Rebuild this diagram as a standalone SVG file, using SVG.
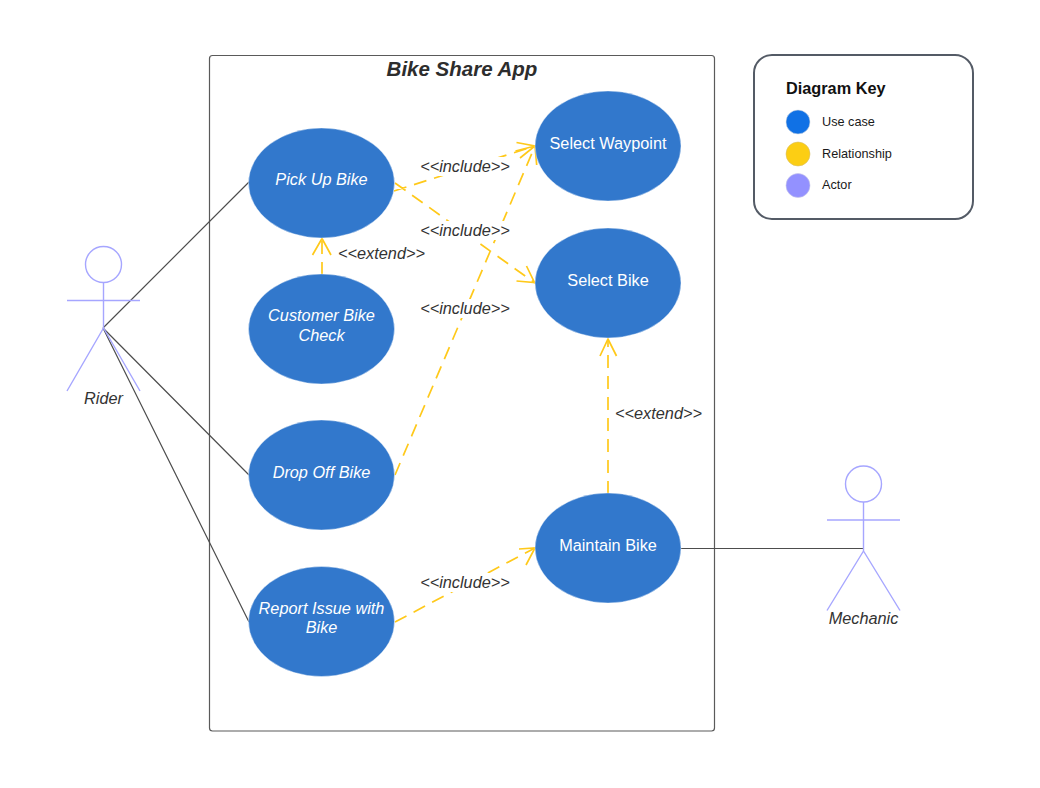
<svg xmlns="http://www.w3.org/2000/svg" width="1040" height="788" viewBox="0 0 1040 788">
<style>
text{font-family:"Liberation Sans",Arial,sans-serif}
.uc{fill:#3278cc;stroke:#fff;stroke-width:.4}
.t{fill:#fff;font-size:16.300px;text-anchor:middle}
.i{font-style:italic}
.lab{fill:#333;font-size:16.300px;font-style:italic;text-anchor:middle}
.bg{fill:#fff}
.rel{fill:none;stroke:#ffc91a;stroke-width:1.7;stroke-dasharray:13 8}
.head{fill:none;stroke:#ffc91a;stroke-width:1.7}
.assoc{fill:none;stroke:#4d4d4d;stroke-width:1.2}
.actor{fill:none;stroke:#a6a6ff;stroke-width:1.4}
.key{font-size:12.700px;fill:#1a1a1a}
</style>
<rect width="1040" height="788" fill="#fff"/>
<g id="frame">
<rect x="209.500" y="55.500" width="505" height="675.500" rx="3" fill="#fff" stroke="#5a5a5a" stroke-width="1.2"/>
<text x="462" y="75.500" font-size="20.500" font-weight="700" font-style="italic" text-anchor="middle" fill="#2d2d2d">Bike Share App</text>
</g>
<g id="connectors">
<path class="assoc" d="M103 328L249 182M103 328L249 475M103 328L249 622"/>
<path class="assoc" stroke-width="1.600" d="M681 548.500H864"/>
<path class="rel" d="M394 191L535 146M395 183L535 283M395 475L535 146M322 275V239M395 622L535 548M608 494V339"/>
<path class="head" d="M516.500 142.500L535 146L520 158M526.500 266L534.500 282.500L516.500 281M515.500 151L535 146L536.700 165M312.500 255L322 238.500L331 255M519 549L535 548L526 565M600 356L608 339L616.500 356"/>
</g>
<g id="labels">
<rect class="bg" x="420" y="157" width="90" height="19"/><text class="lab" x="465" y="172">&lt;&lt;include&gt;&gt;</text>
<rect class="bg" x="420" y="221" width="90" height="19"/><text class="lab" x="465" y="236">&lt;&lt;include&gt;&gt;</text>
<rect class="bg" x="420" y="299" width="90" height="19"/><text class="lab" x="465" y="314">&lt;&lt;include&gt;&gt;</text>
<rect class="bg" x="420" y="573" width="90" height="19"/><text class="lab" x="465" y="588">&lt;&lt;include&gt;&gt;</text>
<text class="lab" x="381.500" y="259">&lt;&lt;extend&gt;&gt;</text>
<text class="lab" x="658.500" y="419">&lt;&lt;extend&gt;&gt;</text>
</g>
<g id="pick-up-bike"><ellipse class="uc" cx="321.500" cy="183" rx="73" ry="55"/><text class="t i" x="321.500" y="185">Pick Up Bike</text></g>
<g id="customer-bike-check"><ellipse class="uc" cx="321.500" cy="329" rx="73" ry="55"/><text class="t i" x="321.500" y="321">Customer Bike</text><text class="t i" x="321.500" y="341">Check</text></g>
<g id="drop-off-bike"><ellipse class="uc" cx="321.500" cy="475" rx="73" ry="55"/><text class="t i" x="321.500" y="478">Drop Off Bike</text></g>
<g id="report-issue"><ellipse class="uc" cx="321.500" cy="621.500" rx="73" ry="55"/><text class="t i" x="321.500" y="614">Report Issue with</text><text class="t i" x="321.500" y="633">Bike</text></g>
<g id="select-waypoint"><ellipse class="uc" cx="608" cy="146" rx="73" ry="55"/><text class="t" x="608" y="149">Select Waypoint</text></g>
<g id="select-bike"><ellipse class="uc" cx="608" cy="283" rx="73" ry="55"/><text class="t" x="608" y="286">Select Bike</text></g>
<g id="maintain-bike"><ellipse class="uc" cx="608" cy="548" rx="73" ry="55"/><text class="t" x="608" y="551">Maintain Bike</text></g>
<g id="rider"><circle class="actor" cx="103.500" cy="264.500" r="18"/><path class="actor" d="M103.500 282.500V328M67 300.500H140M103.500 328L67 391M103.500 328L140 391"/><text class="lab" x="103.500" y="404">Rider</text></g>
<g id="mechanic"><circle class="actor" cx="863.500" cy="484" r="18"/><path class="actor" d="M863.500 502V551M827 520H900M863.500 551L827 610.500M863.500 551L900 610.500"/><text class="lab" x="863.500" y="624">Mechanic</text></g>
<g id="diagram-key">
<rect x="754" y="55" width="219" height="164" rx="18" fill="#fff" stroke="#545b66" stroke-width="2"/>
<text x="786" y="94" font-size="16.300" font-weight="700" fill="#111">Diagram Key</text>
<circle cx="798" cy="122" r="12" fill="#1071e5" stroke="#cfd6e0" stroke-width=".6"/><text class="key" x="822" y="125.500">Use case</text>
<circle cx="798" cy="154" r="12" fill="#fcce14" stroke="#d8c06a" stroke-width=".6"/><text class="key" x="822" y="157.500">Relationship</text>
<circle cx="798" cy="185.500" r="12" fill="#9391ff" stroke="#c8c8e8" stroke-width=".6"/><text class="key" x="822" y="189">Actor</text>
</g>
</svg>
